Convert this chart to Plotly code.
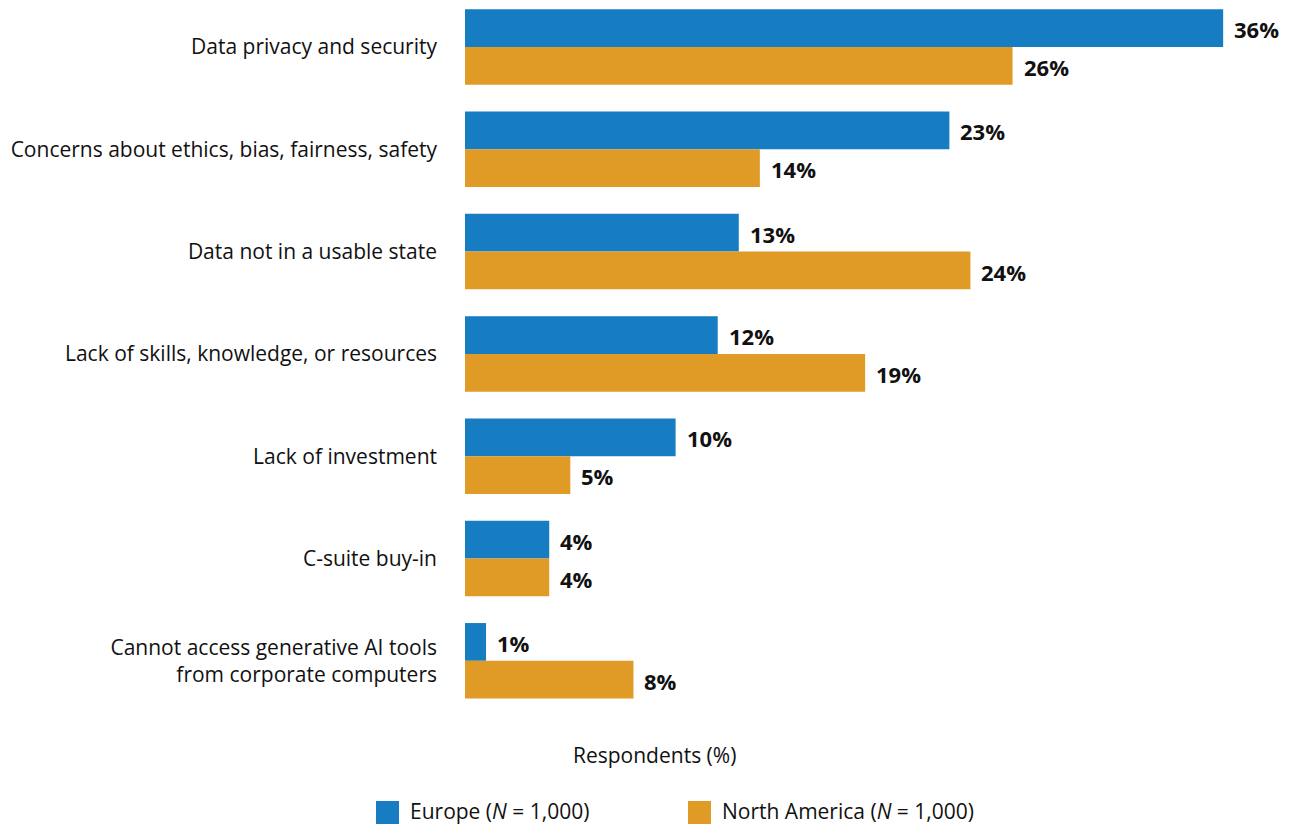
import plotly.graph_objects as go

categories = [
    "Data privacy and security",
    "Concerns about ethics, bias, fairness, safety",
    "Data not in a usable state",
    "Lack of skills, knowledge, or resources",
    "Lack of investment",
    "C-suite buy-in",
    "Cannot access generative AI tools<br>from corporate computers",
]
europe = [36, 23, 13, 12, 10, 4, 1]
north_america = [26, 14, 24, 19, 5, 4, 8]
series_names = ["Europe (<i>N</i> = 1,000)", "North America (<i>N</i> = 1,000)"]
colors = ["#167DC2", "#E09A26"]

FONT = "Open Sans"
FS = 21
FS_VAL = 22

# page body has an 8px margin: shift everything by -8
OFF = 8
W, H = 1292 - OFF, 824 - OFF
ML, MR, MT, MB = 465 - OFF, 27, 0, 104
PW, PH = W - ML - MR, H - MT - MB

def px_x(p):
    return (p - OFF - ML) / PW

def px_y(p):
    return (H - MB - (p - OFF)) / PH

fig = go.Figure()
for vals, name, col in zip([europe, north_america], series_names, colors):
    fig.add_trace(go.Bar(
        y=categories, x=vals, orientation="h", name=name,
        marker=dict(color=col, line=dict(width=0)), showlegend=False,
        hoverinfo="skip",
    ))

ann = []
for vals, shift in [(europe, 19), (north_america, -19)]:
    for c, v in zip(categories, vals):
        ann.append(dict(x=v, y=c, xref="x", yref="y", text=f"<b>{v}%</b>",
                        showarrow=False, xanchor="left", yanchor="middle",
                        xshift=9, yshift=shift - 1,
                        font=dict(family=FONT, size=FS_VAL, color="#111111")))

ann.append(dict(x=px_x(654), y=px_y(755), xref="paper", yref="paper",
                text="Respondents (%)", showarrow=False, xanchor="center",
                yanchor="middle", font=dict(family=FONT, size=FS, color="#111111")))

shapes = []
for sx, tx, name, col in [(376, 408, series_names[0], colors[0]),
                          (688, 720, series_names[1], colors[1])]:
    shapes.append(dict(type="rect", xref="paper", yref="paper",
                       x0=px_x(sx), x1=px_x(sx + 23), y0=px_y(801), y1=px_y(824),
                       fillcolor=col, line=dict(width=0)))
    ann.append(dict(x=px_x(tx), y=px_y(811), xref="paper", yref="paper",
                    text=name, showarrow=False, xanchor="left", yanchor="middle",
                    font=dict(family=FONT, size=FS, color="#111111")))

cat_px = 102.3
first_center = 47 - OFF
top_val = -first_center / cat_px
bot_val = (PH - first_center) / cat_px

fig.update_layout(
    width=W, height=H,
    margin=dict(l=ML, r=MR, t=MT, b=MB, pad=0),
    barmode="group", bargap=0.262, bargroupgap=0,
    plot_bgcolor="white", paper_bgcolor="white",
    annotations=ann, shapes=shapes,
    font=dict(family=FONT, size=FS, color="#111111"),
    xaxis=dict(range=[0, PW / 21.06], visible=False, fixedrange=True),
    yaxis=dict(type="category", range=[bot_val, top_val], showgrid=False,
               showline=False, zeroline=False, ticks="", ticklabelstandoff=27,
               tickfont=dict(family=FONT, size=FS, color="#111111"),
               fixedrange=True),
)

fig.write_html("out.html")
